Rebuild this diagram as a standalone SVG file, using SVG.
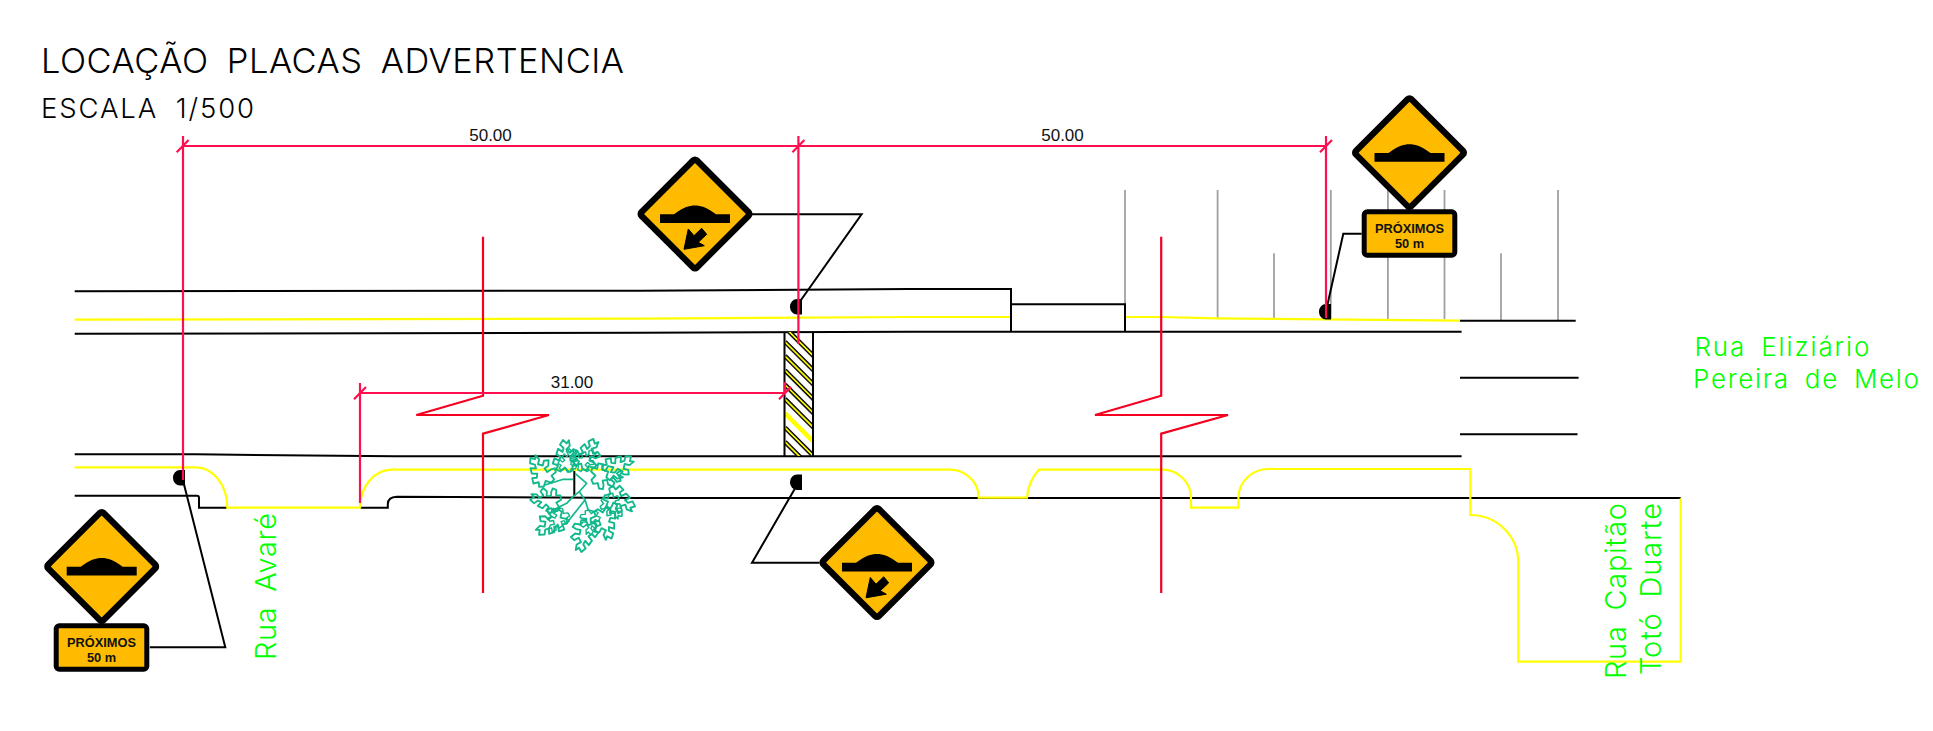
<svg xmlns="http://www.w3.org/2000/svg" xmlns:xlink="http://www.w3.org/1999/xlink" width="1933" height="731" viewBox="0 0 1933 731">
<style>
.k{fill:none;stroke:#000;stroke-width:2}
.y{fill:none;stroke:#ff0;stroke-width:2.2}
.d{fill:none;stroke:#ff0f4f;stroke-width:2.2}
.r{fill:none;stroke:#f5001f;stroke-width:2.2}
.g{fill:none;stroke:#a0a0a0;stroke-width:1.8}
.t{fill:none;stroke:#10b88c;stroke-width:1.7;stroke-linejoin:round}
.cad{font-family:"Inter","Liberation Sans",sans-serif;font-weight:300}
.title{fill:#000}
.street{fill:#0f0;font-size:26px}
.rot{font-size:29px}
.dim{font-family:"Liberation Sans",Arial,sans-serif;font-size:17px;fill:#111;text-anchor:middle}
.pl{font-family:"Liberation Sans",Arial,sans-serif;font-size:12.8px;font-weight:bold;fill:#111;text-anchor:middle}
.hb{stroke:#111;stroke-width:4.6;fill:none}
.hy{stroke:#ff0;stroke-width:1.6;fill:none}
</style>
<defs>
<g id="diamond">
<polygon points="0,-52 52,0 0,52 -52,0" fill="#000" stroke="#000" stroke-width="11" stroke-linejoin="round"/>
<polygon points="0,-50 50,0 0,50 -50,0" fill="#ffbb00" stroke="#ffbb00" stroke-width="1.4" stroke-linejoin="round"/>
<path d="M-35,0.3H-21C-12,-6.5 -6,-8.5 0,-8.5C6,-8.5 12,-6.5 21,0.3H35V9H-35Z" fill="#000"/>
</g>
<path id="arrow" d="M-11,35.3L-6.7,15L-1,21.7L6.7,14.3L11.7,20.3L3.3,28.3L9.3,31.7Z" fill="#000" stroke="#000" stroke-width="1"/>
<g id="plate">
<rect x="-45.3" y="-21.7" width="90.6" height="43.4" rx="3" fill="#ffbb00" stroke="#000" stroke-width="5"/>
</g>
<path id="pin" d="M0,0V15.5H-5A7,7.7 0 0 1 -5,0Z" fill="#000"/>
<path id="lobe" d="M-2,0L-4,-5L-9,-3L-12,-6L-9,-9L-13,-12L-10,-16L-7,-13L-4,-15L-7,-19L-4,-23L-1,-19L1,-22L-1,-26L3,-29L5,-25L8,-27L7,-22L3,-20L5,-16L9,-18L12,-15L8,-12L4,-13L3,-9L7,-8L10,-6L8,-3L3,-4L2,0Z" class="t"/>
<clipPath id="hc"><rect x="785" y="332" width="28" height="124"/></clipPath>
</defs>

<g id="titles" class="cad title">
<text x="41" y="72.7" font-size="34.4" textLength="583" lengthAdjust="spacing" style="word-spacing:8px">LOCAÇÃO PLACAS ADVERTENCIA</text>
<text x="41" y="118" font-size="27.5" textLength="213" lengthAdjust="spacing" style="word-spacing:8px">ESCALA 1/500</text>
</g>

<g id="grey-lines">
<path class="g" d="M1125,190V304M1217.6,190V318M1274,253.3V318M1330.8,190V319M1387.9,190V319M1444.5,190V319M1501,253.3V320M1558,190V320"/>
</g>

<g id="road">
<path class="y" d="M74.7,319.7L640,318.7L909,317H1011M1125,317H1161L1217.6,318.3L1326,319.3L1460,320.7"/>
<path class="k" d="M74.7,291.3L640,290.7L909,289H1011V332M1011,304.3H1125V332"/>
<path class="k" d="M74.7,333.7L640,332.8L909,331.7H1461.6"/>
<path class="k" d="M1460,320.7H1575.7M1460,377.7H1578.6M1460,434.3H1577.5"/>
<path class="k" d="M74.7,454.3H196L394,456.3H1461.6"/>
<path class="k" d="M74.7,495.7H197Q199,495.7 199,498V507.7H227M360,507.7H387.8V504Q388,497 396.7,496.7L640,498H1680.7"/>
<path class="y" d="M74.7,467.3H196A31.3,40.4 0 0 1 227.3,507.7H360A31.8,38 0 0 1 391.8,469.7H950A29,28 0 0 1 978.8,497.7H1027Q1028,482 1038.8,469.7H1162.4A28.6,28.6 0 0 1 1191,498.3V507.7H1238.4V498A30,29 0 0 1 1268.6,469H1470.3V515A48,46.7 0 0 1 1518.2,561.7V661.7H1680.7V498.3"/>
</g>

<g id="crossing">
<g clip-path="url(#hc)">
<path class="hb" d="M785,327.5l30,30M785,341.8l30,30M785,356l30,30M785,370.4l30,30M785,384.7l30,30M785,399l30,30M785,427.6l30,30M785,441.9l30,30"/>
<path class="hy" d="M785,327.5l30,30M785,341.8l30,30M785,356l30,30M785,370.4l30,30M785,384.7l30,30M785,399l30,30M785,427.6l30,30M785,441.9l30,30"/>
<path d="M785,413.3l30,30" stroke="#ff0" stroke-width="4.5" fill="none"/>
</g>
<path class="k" d="M784.5,332V456M813,332V456"/>
</g>

<g id="tree">
<path class="k" d="M574.3,471V496"/>
<path class="t" d="M545,485L563.3,479.3H573.3M575,473.3L586.7,483.3L579.3,491.7L573,496.7L566.7,503.3L553,510M579.3,491.7L585,500L588.3,510L595,511.7M566.7,523L585,500"/>
<use href="#lobe" transform="translate(566,458) rotate(-20) translate(0,14) scale(1.1)"/>
<use href="#lobe" transform="translate(568,460) rotate(-5) translate(0,12) scale(.8)"/>
<use href="#lobe" transform="translate(587,456) rotate(10) translate(0,14) scale(1.1)"/>
<use href="#lobe" transform="translate(585,460) rotate(28) translate(0,12) scale(.85)"/>
<use href="#lobe" transform="translate(617,468) rotate(40) translate(0,14) scale(1.1)"/>
<use href="#lobe" transform="translate(605,476) rotate(65) translate(0,14) scale(1.1)"/>
<use href="#lobe" transform="translate(618,500) rotate(100) translate(0,14) scale(1.1)"/>
<use href="#lobe" transform="translate(612,506) rotate(125) translate(0,12) scale(.9)"/>
<use href="#lobe" transform="translate(604,522) rotate(145) translate(0,14) scale(1.1)"/>
<use href="#lobe" transform="translate(584,534) rotate(178) translate(0,14) scale(1.1)"/>
<use href="#lobe" transform="translate(590,522) rotate(165) translate(0,12) scale(.85)"/>
<use href="#lobe" transform="translate(552,522) rotate(215) translate(0,14) scale(1.1)"/>
<use href="#lobe" transform="translate(558,520) rotate(195) translate(0,12) scale(.85)"/>
<use href="#lobe" transform="translate(547,500) rotate(260) translate(0,14) scale(1.05)"/>
<use href="#lobe" transform="translate(542,472) rotate(310) translate(0,14) scale(1.1)"/>
</g>

<g id="break-lines">
<path class="r" d="M483,236.7V395.7L416.3,415H549L483,433.7V593"/>
<path class="r" d="M1161.2,236.7V395.7L1095,415H1228L1161.2,433.7V593"/>
</g>

<g id="connectors">
<path class="k" d="M752,214.3H861.6L801,300"/>
<path class="k" d="M1361.6,233.7H1343.3L1327,306.7"/>
<path class="k" d="M149.8,647.3H225.3L182.9,480"/>
<path class="k" d="M819.6,562.7H752L796,486.7"/>
</g>

<g id="pins">
<use href="#pin" transform="translate(802,299)"/>
<use href="#pin" transform="translate(185,470)"/>
<use href="#pin" transform="translate(802,474.5)"/>
<use href="#pin" transform="translate(1331,304)"/>
</g>

<g id="dimensions">
<path class="d" d="M183,146H1326M183,136V480M798.4,136V344M1326,136V318M176.7,152.3L188.6,140M792.4,152.3L804.4,140M1320,152.3L1332,140"/>
<path class="d" d="M360,393H785M360,383V503M785,382V393M354,399.3L366,387M779,399.3L791,387"/>
<text class="dim" x="490.5" y="141">50.00</text>
<text class="dim" x="1062.5" y="141">50.00</text>
<text class="dim" x="572" y="388">31.00</text>
</g>

<g id="sign-a"><use href="#diamond" x="695" y="214"/><use href="#arrow" x="695" y="214"/></g>
<g id="sign-b"><use href="#diamond" x="1409.5" y="152.7"/><use href="#plate" x="1409.5" y="233.5"/>
<text class="pl"><tspan x="1409.5" y="232.7">PRÓXIMOS</tspan><tspan x="1409.5" y="247.7">50 m</tspan></text></g>
<g id="sign-c"><use href="#diamond" x="101.7" y="566.5"/><use href="#plate" x="101.5" y="647.5"/>
<text class="pl"><tspan x="101.5" y="646.7">PRÓXIMOS</tspan><tspan x="101.5" y="661.7">50 m</tspan></text></g>
<g id="sign-d"><use href="#diamond" x="877" y="562.5"/><use href="#arrow" x="877" y="562.5"/></g>

<g id="street-names" class="cad street">
<text x="1694.4" y="355.7" textLength="175" lengthAdjust="spacing" style="word-spacing:6px">Rua Eliziário</text>
<text x="1693" y="388.3" textLength="226" lengthAdjust="spacing" style="word-spacing:6px">Pereira de Melo</text>
<text class="rot" transform="translate(276.3,660) rotate(-90)" textLength="147" lengthAdjust="spacing" style="word-spacing:6px">Rua Avaré</text>
<text class="rot" transform="translate(1625.7,679) rotate(-90)" textLength="176" lengthAdjust="spacing" style="word-spacing:6px">Rua Capitão</text>
<text class="rot" transform="translate(1661,675) rotate(-90)" textLength="172" lengthAdjust="spacing" style="word-spacing:6px">Totó Duarte</text>
</g>
</svg>
